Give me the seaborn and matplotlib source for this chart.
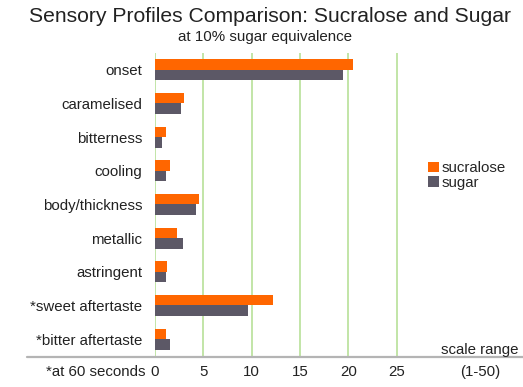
import pandas as pd
import seaborn as sns
import matplotlib.pyplot as plt
from matplotlib.lines import Line2D

attributes = ['onset', 'caramelised', 'bitterness', 'cooling', 'body/thickness',
              'metallic', 'astringent', '*sweet aftertaste', '*bitter aftertaste']
sucralose = [20.5, 3.0, 1.1, 1.5, 4.5, 2.25, 1.2, 12.2, 1.1]
sugar = [19.4, 2.7, 0.75, 1.1, 4.2, 2.9, 1.1, 9.6, 1.5]
xticks = [0, 5, 10, 15, 20, 25]

df = pd.DataFrame({'attribute': attributes, 'sucralose': sucralose, 'sugar': sugar})
data_long = df.melt(id_vars='attribute', var_name='sweetener', value_name='score')

sns.set_style('white')
plt.rcParams['font.family'] = ['Liberation Sans', 'DejaVu Sans']

fig = plt.figure(figsize=(5.23, 3.87), dpi=100)
ax = fig.add_axes([155 / 523, 30 / 387, 368 / 523, 304 / 387])

sns.barplot(data=data_long, y='attribute', x='score', hue='sweetener',
            palette={'sucralose': '#ff6600', 'sugar': '#5c5866'},
            width=0.62, gap=0, saturation=1, linewidth=0, orient='h', ax=ax, legend=True)

ax.set_xlim(0, 368 / 9.67)
ax.set_ylim(8.5 + 0.03, -0.5)
ax.set_xticks(xticks)
ax.set_xticklabels([str(t) for t in xticks], fontsize=10.8, color='#222222')
ax.tick_params(axis='x', length=0, pad=6)
ax.tick_params(axis='y', length=0, pad=9, labelsize=10.8, labelcolor='#222222')
for t in xticks:
    ax.axvline(t, color='#bde3a0', lw=1.3, zorder=0)
for s in ax.spines.values():
    s.set_visible(False)
ax.set_xlabel('')
ax.set_ylabel('')

ax.legend(loc='upper left', bbox_to_anchor=(428 / 523, 1 - 161 / 387),
          bbox_transform=fig.transFigure, frameon=False, fontsize=10.8,
          handlelength=0.7, handleheight=0.7, handletextpad=0.2,
          labelspacing=0.05, borderaxespad=0, borderpad=0)

# bottom baseline across the chart
fig.add_artist(Line2D([27 / 523, 1.0], [1 - 357 / 387] * 2, color='#b4b4b4', lw=1.6,
                      transform=fig.transFigure))

fig.text(270 / 523, 1 - 17 / 387, 'Sensory Profiles Comparison: Sucralose and Sugar',
         ha='center', va='center', fontsize=15.2, color='#222222')
fig.text(265 / 523, 1 - 37 / 387, 'at 10% sugar equivalence',
         ha='center', va='center', fontsize=10.9, color='#222222')
fig.text(146 / 523, 1 - 372 / 387, '*at 60 seconds', ha='right', va='center',
         fontsize=10.8, color='#222222')
fig.text(480 / 523, 1 - 350 / 387, 'scale range', ha='center', va='center',
         fontsize=10.8, color='#222222')
fig.text(480 / 523, 1 - 372 / 387, '(1-50)', ha='center', va='center',
         fontsize=10.8, color='#222222')

plt.savefig('out.png', dpi=100)
